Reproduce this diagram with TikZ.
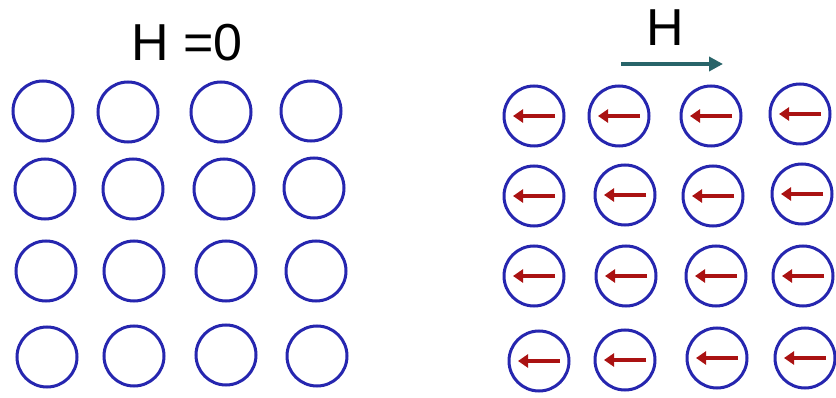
\documentclass[tikz,border=0pt]{standalone}
\usepackage{fontspec}
\setmainfont{Liberation Sans}
\usetikzlibrary{arrows.meta,calc}
\definecolor{ringblue}{RGB}{38,38,175}
\definecolor{spinred}{RGB}{170,18,18}
\definecolor{fieldteal}{RGB}{40,100,105}
\tikzset{
  ring/.style={circle,draw=ringblue,line width=3pt,minimum size=60pt,inner sep=0pt},
  spin/.style={draw=spinred,line width=3.5pt,-{Triangle[length=10pt,width=13pt]}},
  field/.style={draw=fieldteal,line width=3.5pt,-{Triangle[length=14pt,width=14pt]}},
  lbl/.style={font=\fontsize{52}{52}\selectfont,inner sep=0pt}
}
\begin{document}
\begin{tikzpicture}[x=1pt,y=-1pt]
\useasboundingbox[fill=white] (0,0) rectangle (836,398);
\node[lbl] (h0) at (187,43) {H =0};
% left grid
\node[ring] (L11) at (43,111) {};
\node[ring] (L12) at (128,112) {};
\node[ring] (L13) at (221,112) {};
\node[ring] (L14) at (311,111) {};
\node[ring] (L21) at (45,189) {};
\node[ring] (L22) at (133,189) {};
\node[ring] (L23) at (224,189) {};
\node[ring] (L24) at (314,188) {};
\node[ring] (L31) at (46,271) {};
\node[ring] (L32) at (134,271) {};
\node[ring] (L33) at (226,271) {};
\node[ring] (L34) at (316,271) {};
\node[ring] (L41) at (47,357) {};
\node[ring] (L42) at (134,356) {};
\node[ring] (L43) at (226,355) {};
\node[ring] (L44) at (317,356) {};
% field label and arrow
\node[lbl] (hr) at (665,28) {H};
\coordinate (fs) at (621,64);
\coordinate (fe) at (723,64);
\draw[field] (fs) -- (fe);
% right grid
\node[ring] (R11) at (534,116) {};
\node[ring] (R12) at (619,116) {};
\node[ring] (R13) at (711,116) {};
\node[ring] (R14) at (800,114) {};
\node[ring] (R21) at (534,196) {};
\node[ring] (R22) at (625,195) {};
\node[ring] (R23) at (713,196) {};
\node[ring] (R24) at (802,194) {};
\node[ring] (R31) at (534,276) {};
\node[ring] (R32) at (626,276) {};
\node[ring] (R33) at (716,276) {};
\node[ring] (R34) at (803,276) {};
\node[ring] (R41) at (539,361) {};
\node[ring] (R42) at (625,360) {};
\node[ring] (R43) at (717,358) {};
\node[ring] (R44) at (805,358) {};
\foreach \n in {R11,R12,R13,R14,R21,R22,R23,R24,R31,R32,R33,R34,R41,R42,R43,R44}{
  \draw[spin] ([xshift=21pt]\n.center) -- ([xshift=-21pt]\n.center);
}
\end{tikzpicture}
\end{document}
